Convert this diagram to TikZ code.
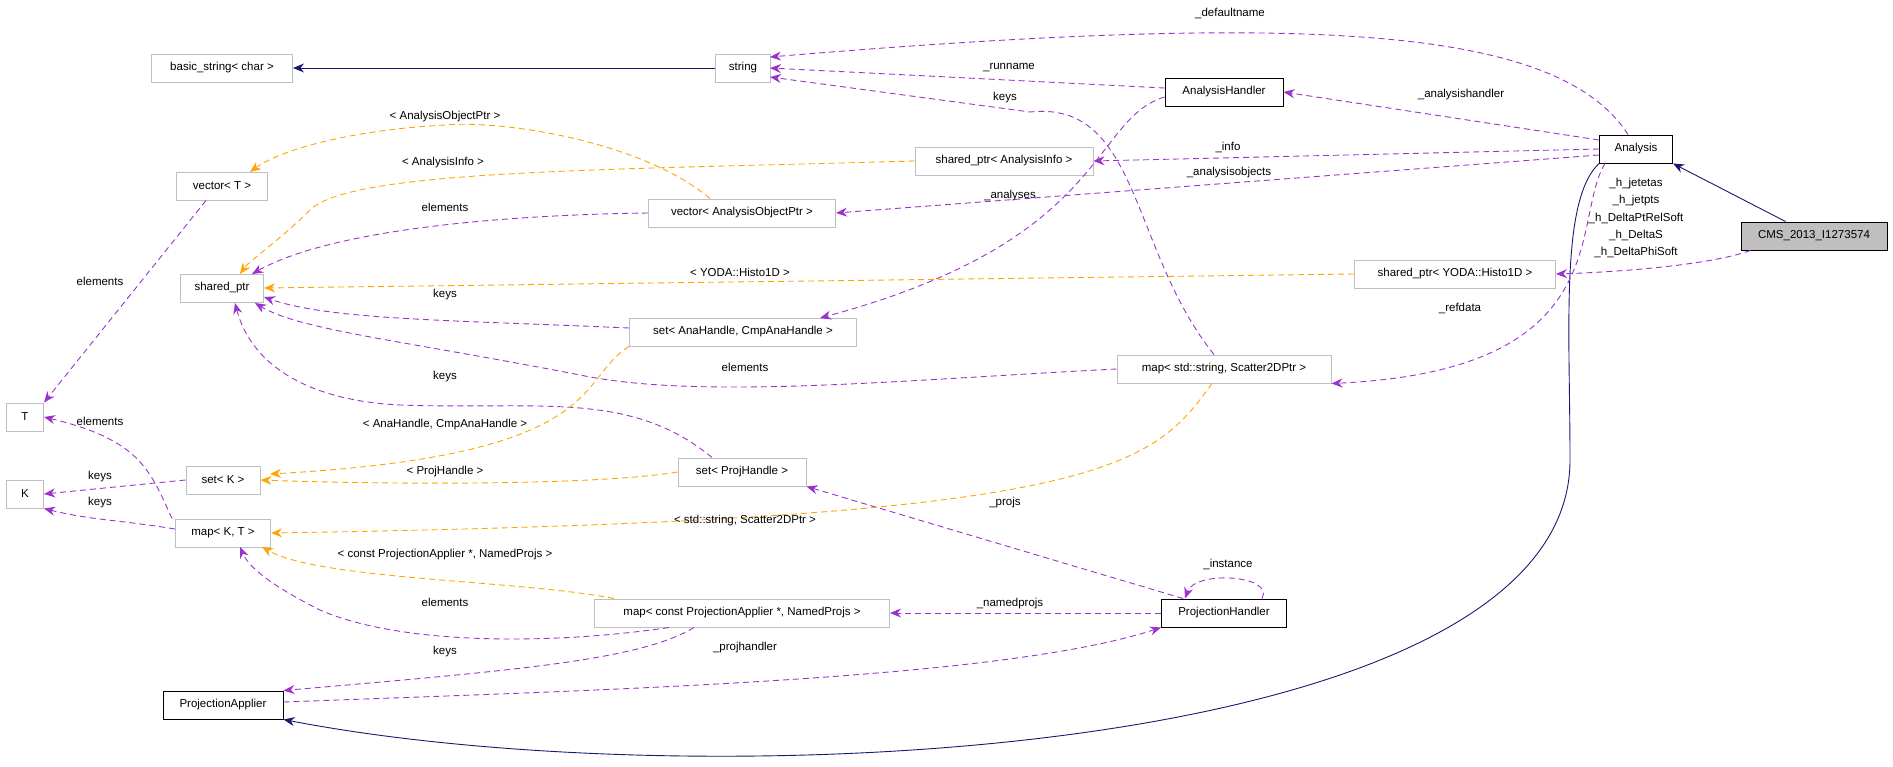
\documentclass[tikz,border=0pt]{standalone}
\usepackage{fontspec}
\setmainfont{Liberation Sans}
\usetikzlibrary{arrows.meta}
\definecolor{pu}{HTML}{9A32CD}
\definecolor{or}{HTML}{FFA500}
\definecolor{nv}{HTML}{191970}
\definecolor{gb}{HTML}{BFBFBF}
\begin{document}
\begin{tikzpicture}[x=1pt,y=-1pt,
  every node/.style={font=\fontsize{11.5}{13.5}\selectfont},
  g/.style={draw=gb,line width=1pt,minimum height=28pt,inner xsep=6pt,fill=white},
  b/.style={draw=black,line width=1pt,minimum height=28pt,inner xsep=6pt,fill=white},
  tip/.style={-{Stealth[length=11pt,width=9pt]}},
  pd/.style={tip,draw=pu,dash pattern=on 6pt off 4pt,line width=0.9pt},
  od/.style={tip,draw=or,dash pattern=on 6pt off 4pt,line width=0.9pt},
  nb/.style={tip,draw=nv,line width=0.9pt},
  lb/.style={inner sep=1pt}]
\useasboundingbox (0,0) rectangle (1893,766);
% nodes
\node[g,minimum width=141pt] (bs) at (222,68) {basic\_string< char >};
\node[g,minimum width=55pt] (str) at (743,68) {string};
\node[b,minimum width=118pt] (ah) at (1224,92) {AnalysisHandler};
\node[b,minimum width=73pt] (an) at (1636,149) {Analysis};
\node[draw=black,fill=gb,line width=1pt,minimum height=28pt,minimum width=146pt] (cms) at (1814,236) {CMS\_2013\_I1273574};
\node[g,minimum width=178pt] (spi) at (1004,161) {shared\_ptr< AnalysisInfo >};
\node[g,minimum width=91pt] (vt) at (222,186) {vector< T >};
\node[g,minimum width=187pt] (vao) at (742,213) {vector< AnalysisObjectPtr >};
\node[g,minimum width=83pt] (sp) at (222,288) {shared\_ptr};
\node[g,minimum width=201pt] (spy) at (1455,274) {shared\_ptr< YODA::Histo1D >};
\node[g,minimum width=227pt] (sah) at (743,332) {set< AnaHandle, CmpAnaHandle >};
\node[g,minimum width=214pt] (mss) at (1224,369) {map< std::string, Scatter2DPtr >};
\node[g,minimum width=37pt] (T) at (25,417) {T};
\node[g,minimum width=37pt] (K) at (25,494) {K};
\node[g,minimum width=74pt] (sk) at (223,480) {set< K >};
\node[g,minimum width=95pt] (mkt) at (223,533) {map< K, T >};
\node[g,minimum width=128pt] (sph) at (742,472) {set< ProjHandle >};
\node[g,minimum width=295pt] (mpa) at (742,613) {map< const ProjectionApplier *, NamedProjs >};
\node[b,minimum width=125pt] (ph) at (1224,613) {ProjectionHandler};
\node[b,minimum width=120pt] (pa) at (223,705) {ProjectionApplier};
% helper coordinates
\path (cms.north west) ++(45,0) coordinate (c1)
      (an.north) ++(-8,0) coordinate (a1)
      (ah.west) ++(0,-4) coordinate (h1)
      (mss.north) ++(-10,0) coordinate (m1)
      (an.west) ++(0,-9) coordinate (a2)
      (an.west) ++(0,6) coordinate (a3)
      (ah.west) ++(0,5) coordinate (h2)
      (an.south west) ++(6,0) coordinate (a4)
      (cms.south west) ++(10,0) coordinate (c2)
      (sah.west) ++(0,-4) coordinate (s2)
      (sph.north) ++(-30,0) coordinate (s3)
      (vt.south) ++(-16,0) coordinate (v1)
      (mkt.west) ++(0,-4) coordinate (k1)
      (mkt.north west) ++(-3,0) coordinate (k2)
      (mpa.south west) ++(75,0) coordinate (p1)
      (mpa.south west) ++(100,0) coordinate (p2)
      (ph.north west) ++(22,0) coordinate (q1)
      (ph.north) ++(38,0) coordinate (q2)
      (ph.north west) ++(24,0) coordinate (q3)
      (pa.east) ++(0,-3) coordinate (r1)
      (vao.north) ++(-32,0) coordinate (o1)
      (mss.south) ++(-12,0) coordinate (o3)
      (mpa.north west) ++(20,0) coordinate (o4);
% navy edges
\draw[nb] (str) -- (bs);
\draw[nb] (c1) -- (an.south east);
\draw[nb] (an.south west) .. controls (1560,200) and (1570,330) .. (1570,460) .. controls (1570,760) and (700,800) .. (pa.south east);
% purple edges
\draw[pd] (a1) .. controls (1560,30) and (1330,10) .. (770,57);
\draw[pd] (h1) -- (770,68);
\draw[pd] (m1) .. controls (1130,250) and (1140,100) .. (1030,112) -- (770,77);
\draw[pd] (a2) -- (ah.east);
\draw[pd] (an.west) -- (spi.east);
\draw[pd] (a3) -- (vao.east);
\draw[pd] (h2) .. controls (1090,120) and (1110,240) .. (820,318);
\draw[pd] (a4) .. controls (1570,220) and (1620,370) .. (mss.south east);
\draw[pd] (c2) .. controls (1710,265) and (1620,272) .. (spy.east);
\draw[pd] (vao.west) .. controls (500,215) and (330,230) .. (252,274);
\draw[pd] (s2) .. controls (450,320) and (330,320) .. (264,297);
\draw[pd] (mss.west) .. controls (900,380) and (700,400) .. (580,375) .. controls (400,340) and (300,330) .. (255,303);
\draw[pd] (s3) .. controls (630,390) and (540,410) .. (400,405) .. controls (300,400) and (250,360) .. (235,303);
\draw[pd] (v1) -- (T.north east);
\draw[pd] (sk.west) -- (K.east);
\draw[pd] (k1) .. controls (120,520) and (90,520) .. (K.south east);
\draw[pd] (k2) .. controls (150,470) and (140,440) .. (T.east);
\draw[pd] (p1) .. controls (550,645) and (400,645) .. (320,610) .. controls (280,590) and (250,570) .. (240,547);
\draw[pd] (p2) .. controls (640,660) and (520,670) .. (pa.north east);
\draw[pd] (ph.west) -- (mpa.east);
\draw[pd] (q1) -- (sph.south east);
\draw[pd] (q2) .. controls (1275,575) and (1195,570) .. (q3);
\draw[pd] (r1) .. controls (600,690) and (1000,680) .. (ph.south west);
% orange edges
\draw[od] (spi.west) .. controls (600,170) and (350,170) .. (310,210) .. controls (280,240) and (250,260) .. (240,274);
\draw[od] (o1) .. controls (640,140) and (500,120) .. (445,125) .. controls (350,130) and (280,150) .. (250,172);
\draw[od] (spy.west) -- (sp.east);
\draw[od] (sah.south west) .. controls (575,380) and (610,455) .. (270,474);
\draw[od] (sph.west) .. controls (600,485) and (400,485) .. (sk.east);
\draw[od] (o3) .. controls (1150,470) and (1100,520) .. (mkt.east);
\draw[od] (o4) .. controls (520,580) and (320,580) .. (262,547);
% labels
\node[lb] (l1) at (1230,13) {\_defaultname};
\node[lb] (l2) at (1009,68) {\_runname};
\node[lb] (l3) at (1005,98) {keys};
\node[lb] (l4) at (1461,95) {\_analysishandler};
\node[lb] (l5) at (1228,147) {\_info};
\node[lb] (l6) at (1229,173) {\_analysisobjects};
\node[lb] (l7) at (1010,196) {\_analyses};
\node[lb,align=center,font=\fontsize{11.5}{17.3}\selectfont] (l8) at (1636,218) {\_h\_jetetas\\\_h\_jetpts\\\_h\_DeltaPtRelSoft\\\_h\_DeltaS\\\_h\_DeltaPhiSoft};
\node[lb] (l9) at (1460,308) {\_refdata};
\node[lb] (l10) at (443,163) {< AnalysisInfo >};
\node[lb] (l11) at (445,117) {< AnalysisObjectPtr >};
\node[lb] (l12) at (445,207) {elements};
\node[lb] (l13) at (740,272) {< YODA::Histo1D >};
\node[lb] (l14) at (445,295) {keys};
\node[lb] (l15) at (745,367) {elements};
\node[lb] (l16) at (445,377) {keys};
\node[lb] (l17) at (100,281) {elements};
\node[lb] (l18) at (445,425) {< AnaHandle, CmpAnaHandle >};
\node[lb] (l19) at (445,472) {< ProjHandle >};
\node[lb] (l20) at (100,477) {keys};
\node[lb] (l21) at (100,503) {keys};
\node[lb] (l22) at (100,421) {elements};
\node[lb] (l23) at (745,521) {< std::string, Scatter2DPtr >};
\node[lb] (l24) at (445,555) {< const ProjectionApplier *, NamedProjs >};
\node[lb] (l25) at (445,602) {elements};
\node[lb] (l26) at (445,652) {keys};
\node[lb] (l27) at (1010,604) {\_namedprojs};
\node[lb] (l28) at (1005,503) {\_projs};
\node[lb] (l29) at (1228,564) {\_instance};
\node[lb] (l30) at (745,648) {\_projhandler};
\end{tikzpicture}
\end{document}
